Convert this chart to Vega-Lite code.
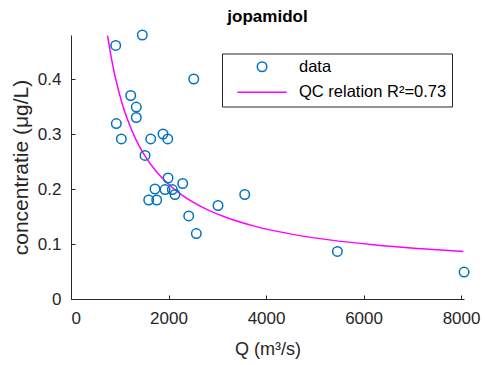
{
  "$schema": "https://vega.github.io/schema/vega-lite/v6.json",
  "autosize": {"type": "none"},
  "width": 393,
  "height": 264,
  "padding": {"left": 71, "top": 35, "right": 21, "bottom": 66},
  "background": "white",
  "title": {"text": "jopamidol", "fontSize": 17, "fontWeight": "bold", "font": "Liberation Sans", "color": "#000", "anchor": "middle", "offset": 1},
  "datasets": {
    "pts": [
      {"Q": 917, "c": 0.461, "series": "data"},
      {"Q": 1463, "c": 0.480, "series": "data"},
      {"Q": 2517, "c": 0.400, "series": "data"},
      {"Q": 1225, "c": 0.370, "series": "data"},
      {"Q": 1339, "c": 0.349, "series": "data"},
      {"Q": 1339, "c": 0.330, "series": "data"},
      {"Q": 929, "c": 0.319, "series": "data"},
      {"Q": 1032, "c": 0.291, "series": "data"},
      {"Q": 1635, "c": 0.291, "series": "data"},
      {"Q": 1887, "c": 0.300, "series": "data"},
      {"Q": 1984, "c": 0.291, "series": "data"},
      {"Q": 1518, "c": 0.261, "series": "data"},
      {"Q": 1990, "c": 0.220, "series": "data"},
      {"Q": 1723, "c": 0.200, "series": "data"},
      {"Q": 1928, "c": 0.199, "series": "data"},
      {"Q": 2078, "c": 0.199, "series": "data"},
      {"Q": 2291, "c": 0.210, "series": "data"},
      {"Q": 2133, "c": 0.190, "series": "data"},
      {"Q": 1594, "c": 0.180, "series": "data"},
      {"Q": 1758, "c": 0.180, "series": "data"},
      {"Q": 2414, "c": 0.151, "series": "data"},
      {"Q": 2570, "c": 0.119, "series": "data"},
      {"Q": 3015, "c": 0.170, "series": "data"},
      {"Q": 3563, "c": 0.190, "series": "data"},
      {"Q": 5463, "c": 0.0865, "series": "data"},
      {"Q": 8062, "c": 0.049, "series": "data"}
    ],
    "fit": [
      {"Q": 750, "c": 0.479, "series": "QC relation R²=0.73"},
      {"Q": 800, "c": 0.452, "series": "QC relation R²=0.73"},
      {"Q": 870, "c": 0.419, "series": "QC relation R²=0.73"},
      {"Q": 950, "c": 0.388, "series": "QC relation R²=0.73"},
      {"Q": 1050, "c": 0.355, "series": "QC relation R²=0.73"},
      {"Q": 1150, "c": 0.3285, "series": "QC relation R²=0.73"},
      {"Q": 1250, "c": 0.306, "series": "QC relation R²=0.73"},
      {"Q": 1400, "c": 0.278, "series": "QC relation R²=0.73"},
      {"Q": 1550, "c": 0.2557, "series": "QC relation R²=0.73"},
      {"Q": 1750, "c": 0.2317, "series": "QC relation R²=0.73"},
      {"Q": 2000, "c": 0.2086, "series": "QC relation R²=0.73"},
      {"Q": 2300, "c": 0.1874, "series": "QC relation R²=0.73"},
      {"Q": 2700, "c": 0.1665, "series": "QC relation R²=0.73"},
      {"Q": 3200, "c": 0.1477, "series": "QC relation R²=0.73"},
      {"Q": 3800, "c": 0.1316, "series": "QC relation R²=0.73"},
      {"Q": 4500, "c": 0.1184, "series": "QC relation R²=0.73"},
      {"Q": 5300, "c": 0.1075, "series": "QC relation R²=0.73"},
      {"Q": 6200, "c": 0.0986, "series": "QC relation R²=0.73"},
      {"Q": 7100, "c": 0.0919, "series": "QC relation R²=0.73"},
      {"Q": 8047, "c": 0.0865, "series": "QC relation R²=0.73"}
    ]
  },
  "encoding": {
    "x": {"field": "Q", "type": "quantitative",
      "scale": {"domain": [0, 8060], "nice": false, "zero": false},
      "axis": {"title": "Q (m³/s)", "values": [0, 2000, 4000, 6000, 8000], "format": "d"}},
    "y": {"field": "c", "type": "quantitative",
      "scale": {"domain": [0, 0.48], "nice": false},
      "axis": {"title": "concentratie (μg/L)", "values": [0, 0.1, 0.2, 0.3, 0.4], "format": ".1~f"}}
  },
  "layer": [
    {
      "data": {"name": "fit"},
      "mark": {"type": "line", "strokeWidth": 1.5, "interpolate": "monotone", "clip": true},
      "encoding": {
        "color": {"field": "series", "type": "nominal",
          "scale": {"domain": ["data", "QC relation R²=0.73"], "range": ["#0072BD", "#FF00FF"]},
          "legend": {"orient": "none", "legendX": 151, "legendY": 18.5, "title": null}}
      }
    },
    {
      "data": {"name": "pts"},
      "mark": {"type": "point", "filled": false, "strokeWidth": 1.5, "opacity": 1, "size": 90},
      "encoding": {
        "color": {"field": "series", "type": "nominal"},
        "shape": {"field": "series", "type": "nominal",
          "scale": {"domain": ["data", "QC relation R²=0.73"], "range": ["circle", "M-5.2,0H5.2"]},
          "legend": {"orient": "none", "legendX": 151, "legendY": 18.5, "title": null}}
      }
    }
  ],
  "config": {
    "view": {"stroke": null},
    "font": "Liberation Sans",
    "axis": {
      "grid": false,
      "domainColor": "#262626",
      "domainWidth": 1,
      "tickColor": "#262626",
      "tickSize": -4,
      "labelColor": "#262626",
      "labelFontSize": 17,
      "labelFont": "Liberation Sans",
      "titleFont": "Liberation Sans",
      "titleFontSize": 18,
      "titleFontWeight": "normal",
      "titleColor": "#262626"
    },
    "axisX": {"labelPadding": 15, "titlePadding": 14},
    "axisY": {"labelPadding": 14, "titlePadding": 6, "titleFontSize": 21},
    "legend": {
      "strokeColor": "#262626",
      "fillColor": "white",
      "padding": 5,
      "labelFontSize": 16.5,
      "labelFont": "Liberation Sans",
      "labelColor": "#000",
      "labelOffset": 28.7,
      "symbolOffset": 26.8,
      "symbolSize": 90,
      "rowPadding": 8.5,
      "symbolStrokeWidth": 1.5
    }
  }
}
